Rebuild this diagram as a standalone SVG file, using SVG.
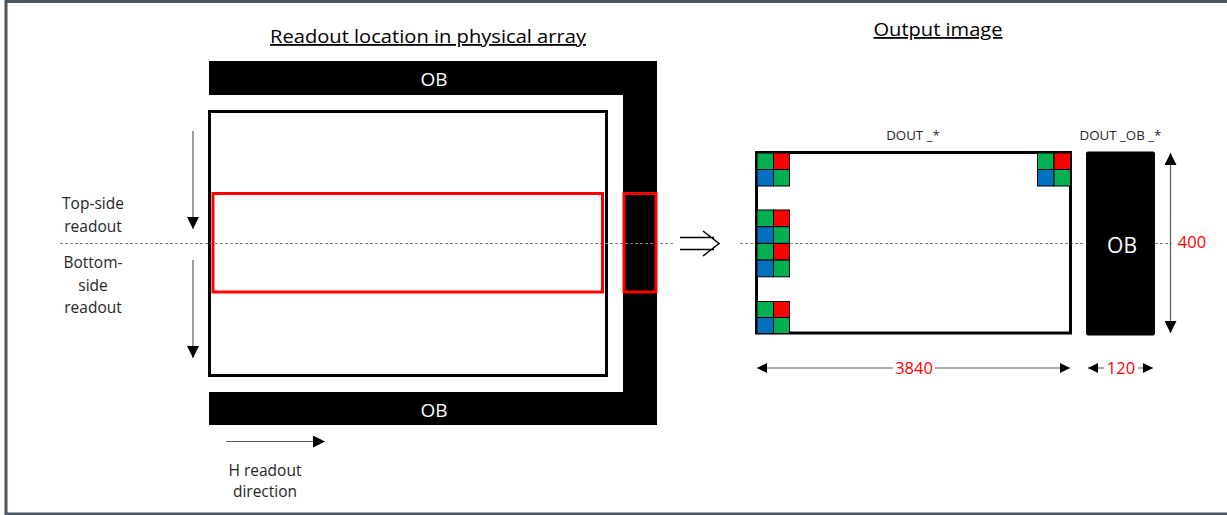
<svg xmlns="http://www.w3.org/2000/svg" width="1227" height="515" viewBox="0 0 1227 515">
<defs>
<style>
text{font-family:"Open Sans","Noto Sans","Liberation Sans",sans-serif;}
.lbl{font-size:15.5px;fill:#262626;text-anchor:middle;}
.ttl{font-size:18px;fill:#000;text-anchor:middle;text-decoration:underline;}
.ob{fill:#000;}
.obt{font-size:19px;fill:#fff;text-anchor:middle;}
.red{font-size:16.5px;fill:#ff0000;text-anchor:middle;}
.small{font-size:13.3px;fill:#262626;text-anchor:middle;}
.dash{stroke:#808080;stroke-width:1;stroke-dasharray:3 2;fill:none;}
.conn{stroke:#595959;stroke-width:1.2;fill:none;}
.g{fill:#00b050;stroke:#000;stroke-width:1;}
.r{fill:#ff0000;stroke:#000;stroke-width:1;}
.b{fill:#0070c0;stroke:#000;stroke-width:1;}
</style>
<marker id="ah" viewBox="0 0 12 12" refX="12" refY="6" markerWidth="12" markerHeight="12" markerUnits="userSpaceOnUse" orient="auto-start-reverse">
<path d="M0,0 L12,6 L0,12 z" fill="#000"/>
</marker>
<marker id="ahs" viewBox="0 0 10 10" refX="10" refY="5" markerWidth="10" markerHeight="10" markerUnits="userSpaceOnUse" orient="auto-start-reverse">
<path d="M0,0 L10,5 L0,10 z" fill="#000"/>
</marker>
</defs>
<rect x="6" y="1.5" width="1240" height="512.5" fill="#fff" stroke="#4a5561" stroke-width="3"/>

<g id="title-left"><text class="ttl" x="428" y="43" textLength="316" lengthAdjust="spacingAndGlyphs">Readout location in physical array</text></g>
<g id="title-right"><text class="ttl" x="938" y="36" textLength="129" lengthAdjust="spacingAndGlyphs">Output image</text></g>

<g id="ob-top"><rect class="ob" x="209" y="61" width="448" height="34"/><text class="obt" x="434" y="86">OB</text></g>
<g id="ob-right"><rect class="ob" x="623" y="61" width="34" height="364"/></g>
<g id="ob-bottom"><rect class="ob" x="209" y="392" width="448" height="33"/><text class="obt" x="434" y="417">OB</text></g>
<g id="array"><rect x="209.5" y="111.5" width="397" height="264" fill="#fff" stroke="#000" stroke-width="3"/></g>

<g id="connectors">
<line class="dash" x1="60" y1="243.5" x2="673" y2="243.5"/>
<line class="dash" x1="740" y1="243.5" x2="1085" y2="243.5"/>
<line class="dash" x1="1155" y1="243.5" x2="1172" y2="243.5"/>
<line class="conn" x1="193" y1="131" x2="193" y2="229" marker-end="url(#ah)"/>
<line class="conn" x1="193" y1="260" x2="193" y2="358" marker-end="url(#ah)"/>
<line class="conn" x1="226" y1="441.5" x2="325" y2="441.5" marker-end="url(#ah)"/>
<line class="conn" x1="1170.5" y1="153" x2="1170.5" y2="333" stroke="#000" marker-start="url(#ah)" marker-end="url(#ah)"/>
<line class="conn" x1="757" y1="368" x2="1070" y2="368" stroke="#808080" marker-start="url(#ahs)" marker-end="url(#ahs)"/>
<line class="conn" x1="1088" y1="368" x2="1153" y2="368" stroke="#808080" marker-start="url(#ahs)" marker-end="url(#ahs)"/>
<path d="M680,237.5 H714 M680,249.5 H714 M703,231 L719,243.5 L703,256" fill="none" stroke="#000" stroke-width="1.5"/>
</g>

<g id="readout-window">
<rect x="213" y="193.5" width="389.5" height="98.5" fill="none" stroke="#ff0000" stroke-width="3"/>
<rect x="624" y="193.5" width="32" height="98.5" fill="none" stroke="#ff0000" stroke-width="3"/>
</g>

<g id="labels-left">
<text class="lbl" x="93" y="209">Top-side</text>
<text class="lbl" x="93" y="232">readout</text>
<text class="lbl" x="93" y="268">Bottom-</text>
<text class="lbl" x="93" y="291">side</text>
<text class="lbl" x="93" y="313">readout</text>
<text class="lbl" x="265" y="476">H readout</text>
<text class="lbl" x="265" y="497">direction</text>
</g>

<g id="output-image">
<rect x="756.5" y="152.5" width="314" height="180.5" fill="none" stroke="#000" stroke-width="3"/>
<text class="small" x="913" y="140">DOUT _*</text>
</g>

<g id="bayer">
<rect class="g" x="757" y="153" width="16.5" height="16.5"/><rect class="r" x="773.5" y="153" width="16" height="16.5"/>
<rect class="b" x="757" y="169.5" width="16.5" height="16.5"/><rect class="g" x="773.5" y="169.5" width="16" height="16.5"/>

<rect class="g" x="757" y="210" width="16.5" height="16.7"/><rect class="r" x="773.5" y="210" width="16" height="16.7"/>
<rect class="b" x="757" y="226.7" width="16.5" height="16.7"/><rect class="g" x="773.5" y="226.7" width="16" height="16.7"/>
<rect class="g" x="757" y="243.4" width="16.5" height="16.7"/><rect class="r" x="773.5" y="243.4" width="16" height="16.7"/>
<rect class="b" x="757" y="260.1" width="16.5" height="16.7"/><rect class="g" x="773.5" y="260.1" width="16" height="16.7"/>

<rect class="g" x="757" y="301.5" width="16.5" height="16"/><rect class="r" x="773.5" y="301.5" width="16" height="16"/>
<rect class="b" x="757" y="317.5" width="16.5" height="16"/><rect class="g" x="773.5" y="317.5" width="16" height="16"/>

<rect class="g" x="1037.5" y="153" width="16.5" height="16.5"/><rect class="r" x="1054" y="153" width="16.5" height="16.5"/>
<rect class="b" x="1037.5" y="169.5" width="16.5" height="16.5"/><rect class="g" x="1054" y="169.5" width="16.5" height="16.5"/>
</g>

<g id="output-ob">
<rect class="ob" x="1086" y="151.5" width="69" height="184" rx="2"/>
<text class="obt" x="1122" y="252.5" style="font-size:21px">OB</text>
<text class="small" x="1120.5" y="140">DOUT _OB _*</text>
</g>

<g id="dimensions">
<rect x="893" y="358" width="42" height="18" fill="#fff"/>
<text class="red" x="914" y="374">3840</text>
<rect x="1104" y="358" width="34" height="18" fill="#fff"/>
<text class="red" x="1121" y="374">120</text>
<text class="red" x="1192" y="248">400</text>
</g>
</svg>
